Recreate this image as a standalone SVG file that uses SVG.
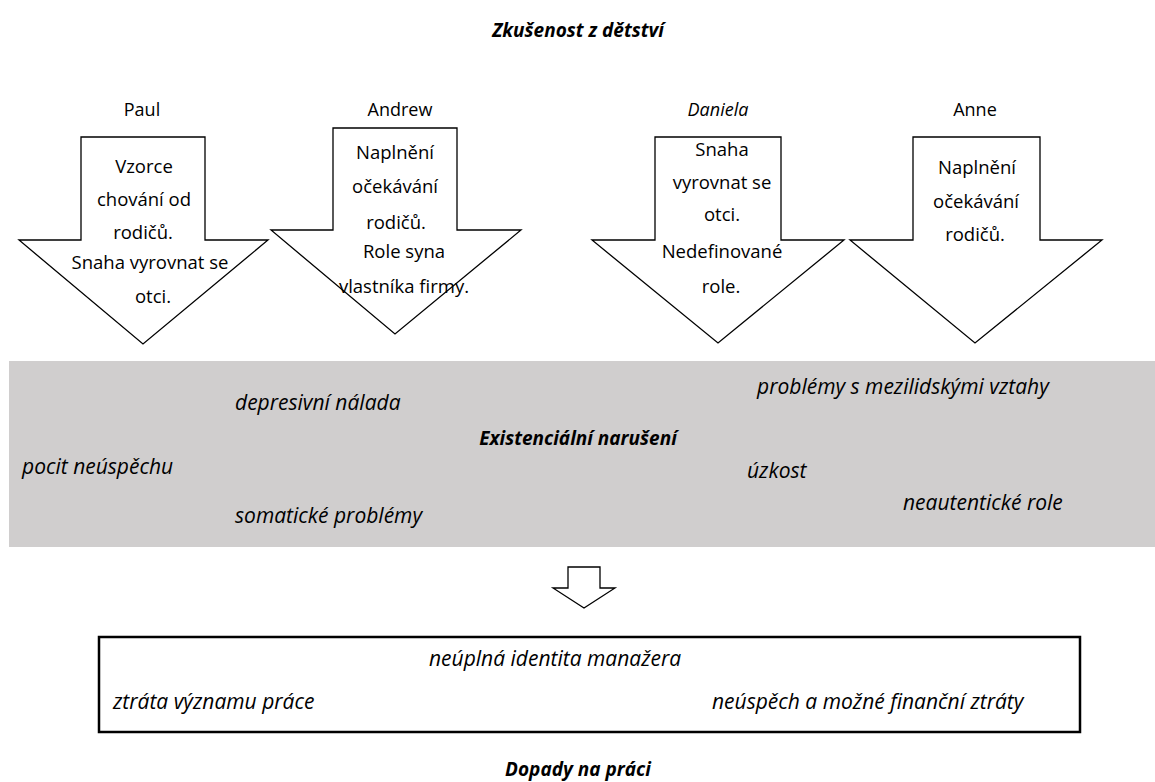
<svg xmlns="http://www.w3.org/2000/svg" width="1155" height="782" viewBox="0 0 1155 782">
<style>
  text { font-family: "Open Sans", "Noto Sans", "Liberation Sans", sans-serif; fill: #000; }
  .ttl { font-size: 19px; font-weight: bold; font-style: italic; text-anchor: middle; }
  .name { font-size: 18px; text-anchor: middle; }
  .at { font-size: 18.5px; text-anchor: middle; }
  .it { font-size: 21px; font-style: italic; }
  .arrow { fill: #fff; stroke: #000; stroke-width: 1.3; stroke-linejoin: miter; }
</style>
<rect width="1155" height="782" fill="#fff"/>

<g id="title-top"><text class="ttl" x="578" y="37">Zkušenost z dětství</text></g>

<g id="paul">
  <text class="name" x="142" y="116">Paul</text>
  <polygon class="arrow" points="81,137 205,137 205,240 268,240 143,344 19,240 81,240"/>
  <text class="at" x="144" y="173">Vzorce</text>
  <text class="at" x="144" y="206">chování od</text>
  <text class="at" x="143" y="239">rodičů.</text>
  <text class="at" x="150" y="269">Snaha vyrovnat se</text>
  <text class="at" x="153" y="303">otci.</text>
</g>

<g id="andrew">
  <text class="name" x="400" y="116">Andrew</text>
  <polygon class="arrow" points="333,128 457,128 457,230 521,230 395,334 271,230 333,230"/>
  <text class="at" x="395" y="159">Naplnění</text>
  <text class="at" x="395" y="193">očekávání</text>
  <text class="at" x="396" y="229">rodičů.</text>
  <text class="at" x="404" y="258">Role syna</text>
  <text class="at" x="404" y="293">vlastníka firmy.</text>
</g>

<g id="daniela">
  <text class="name" x="718" y="116" font-style="italic">Daniela</text>
  <polygon class="arrow" points="655,137 781,137 781,240 844,240 718,343 592,240 655,240"/>
  <text class="at" x="722" y="156">Snaha</text>
  <text class="at" x="722" y="189">vyrovnat se</text>
  <text class="at" x="722" y="221">otci.</text>
  <text class="at" x="722" y="258">Nedefinované</text>
  <text class="at" x="721" y="293">role.</text>
</g>

<g id="anne">
  <text class="name" x="975" y="116">Anne</text>
  <polygon class="arrow" points="913,137 1040,137 1040,240 1102,240 975,343 850,240 913,240"/>
  <text class="at" x="977" y="174">Naplnění</text>
  <text class="at" x="976" y="208">očekávání</text>
  <text class="at" x="975" y="241">rodičů.</text>
</g>

<g id="existencialni">
  <rect x="9" y="361" width="1146" height="186" fill="#d0cece"/>
  <text class="it" x="235" y="410">depresivní nálada</text>
  <text class="it" x="757" y="394">problémy s mezilidskými vztahy</text>
  <text class="ttl" x="578" y="445">Existenciální narušení</text>
  <text class="it" x="22" y="474">pocit neúspěchu</text>
  <text class="it" x="747" y="478">úzkost</text>
  <text class="it" x="903" y="510">neautentické role</text>
  <text class="it" x="235" y="523">somatické problémy</text>
</g>

<g id="connectors">
  <polygon class="arrow" points="568,567 600,567 600,588 615,588 584,608 553,588 568,588"/>
</g>

<g id="dopady">
  <rect x="99" y="637" width="981" height="95" fill="#fff" stroke="#000" stroke-width="2.5"/>
  <text class="it" x="429" y="666">neúplná identita manažera</text>
  <text class="it" x="113" y="709">ztráta významu práce</text>
  <text class="it" x="712" y="709">neúspěch a možné finanční ztráty</text>
</g>

<g id="title-bottom"><text class="ttl" x="578" y="776">Dopady na práci</text></g>
</svg>
